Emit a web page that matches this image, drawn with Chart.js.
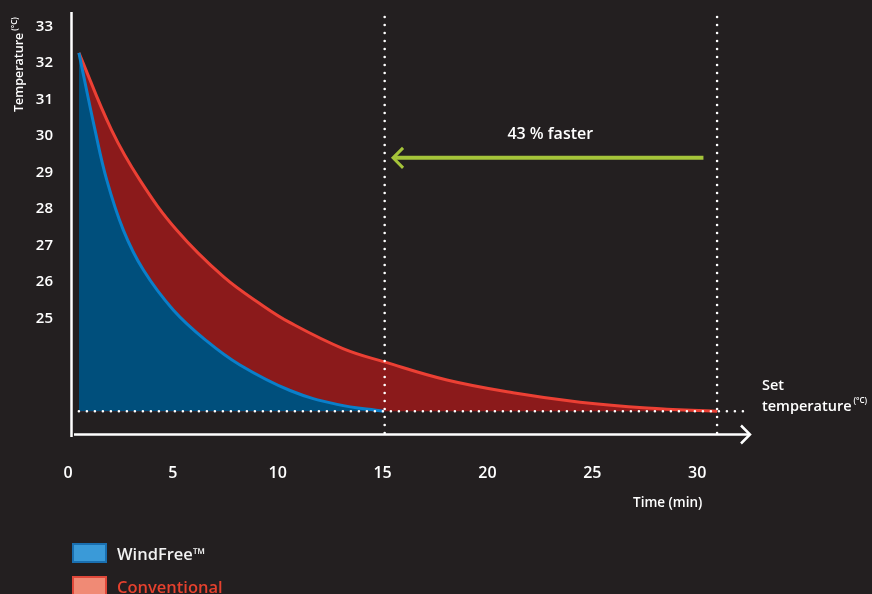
<!DOCTYPE html>
<html>
<head>
<meta charset="utf-8">
<script src="https://cdn.jsdelivr.net/npm/chart.js@4.4.1/dist/chart.umd.min.js"></script>
<style>
  body { margin: 0; background: #231f20; }
  #wrap { position: relative; width: 872px; height: 594px; overflow: hidden; }
  #legend { position: absolute; left: 72px; top: 543px; font-family: 'Open Sans', 'Noto Sans', sans-serif; font-weight: 600; font-size: 16.5px; }
  .item { display: flex; align-items: center; height: 20px; margin-bottom: 13px; }
  .box { width: 31px; height: 16px; border: 2px solid; margin-right: 10px; }
</style>
</head>
<body>
<div id="wrap">
  <canvas id="coolChart" width="872" height="594"></canvas>
  <div id="legend"></div>
</div>
<script>
var seriesNames = ['WindFree™', 'Conventional'];
var windFreeTime = [0.52, 1.29, 1.85, 2.64, 3.59, 5.02, 6.61, 8.2, 10.59, 12.83, 15.05];
var windFreeTemp = [32.28, 30.16, 28.79, 27.42, 26.33, 25.23, 24.38, 23.72, 23.02, 22.64, 22.45];
var conventionalTime = [0.52, 2.08, 3.43, 5.18, 7.41, 9.31, 10.59, 13.11, 15.12, 18.07, 21.22, 24.42, 27.61, 30.95];
var conventionalTemp = [32.28, 30.16, 28.79, 27.42, 26.14, 25.34, 24.88, 24.17, 23.8, 23.31, 22.96, 22.7, 22.54, 22.45];
var xTicks = [0, 5, 10, 15, 20, 25, 30];
var yTicks = [25, 26, 27, 28, 29, 30, 31, 32, 33];
var setTemp = 22.45;
var doneTimes = [15.1, 30.95];
var fasterText = '43 % faster';

var font = "'Open Sans', 'Noto Sans', sans-serif";
var lineColors = ['#0a7fca', '#ec4034'];
var fillColors = ['#004f7c', '#8b1a1b'];
var boxColors = ['#3a9ad8', '#f08a75'];
var boxBorders = ['#1a6fb0', '#e0483a'];
var textColors = ['#f2f2f2', '#e5412e'];

function pts(xs, ys) {
  return xs.map(function (v, i) { return { x: v, y: ys[i] }; });
}

var overlay = {
  id: 'overlay',
  afterDatasetsDraw: function (chart) {
    var ctx = chart.ctx, x = chart.scales.x, y = chart.scales.y, a = chart.chartArea;
    ctx.save();

    // dotted guides
    ctx.strokeStyle = '#ffffff';
    ctx.lineWidth = 2.6;
    ctx.lineCap = 'round';
    ctx.setLineDash([0, 8]);
    doneTimes.forEach(function (t) {
      var px = x.getPixelForValue(t);
      ctx.beginPath();
      ctx.moveTo(px, a.top + 5);
      ctx.lineTo(px, a.bottom + 6);
      ctx.stroke();
    });
    var sy = y.getPixelForValue(setTemp);
    ctx.beginPath();
    ctx.moveTo(x.getPixelForValue(windFreeTime[0]), sy);
    ctx.lineTo(a.right - 4, sy);
    ctx.stroke();
    ctx.setLineDash([]);

    // axes
    ctx.lineCap = 'butt';
    ctx.lineWidth = 2.5;
    var ax = x.getPixelForValue(0) + 3.5;
    var ay = a.bottom - 0.5;
    ctx.beginPath();
    ctx.moveTo(ax, a.top);
    ctx.lineTo(ax, a.bottom + 2);
    ctx.moveTo(ax + 2.5, ay);
    ctx.lineTo(a.right, ay);
    ctx.stroke();
    ctx.beginPath();
    ctx.moveTo(a.right - 9, ay - 9);
    ctx.lineTo(a.right, ay);
    ctx.lineTo(a.right - 9, ay + 9);
    ctx.stroke();

    // "faster" arrow
    var gy = y.getPixelForValue(29.4);
    var gx1 = x.getPixelForValue(30.3), gx0 = x.getPixelForValue(15.5);
    ctx.strokeStyle = '#a5c43a';
    ctx.lineWidth = 4;
    ctx.beginPath();
    ctx.moveTo(gx1, gy);
    ctx.lineTo(gx0 + 2, gy);
    ctx.stroke();
    ctx.lineWidth = 3;
    ctx.beginPath();
    ctx.moveTo(gx0 + 10, gy - 10);
    ctx.lineTo(gx0, gy);
    ctx.lineTo(gx0 + 10, gy + 10);
    ctx.stroke();

    ctx.fillStyle = '#ffffff';
    ctx.font = '600 16px ' + font;
    ctx.textAlign = 'center';
    ctx.textBaseline = 'alphabetic';
    ctx.fillText(fasterText, (gx0 + gx1) / 2 + 2, gy - 19);

    // axis titles
    ctx.textAlign = 'left';
    ctx.font = '600 13.5px ' + font;
    ctx.fillText('Time (min)', 633, 507);
    ctx.font = '600 14.5px ' + font;
    ctx.fillText('Set', 762, 390);
    ctx.fillText('temperature', 762, 411);
    var tw = ctx.measureText('temperature').width;
    ctx.font = '600 8px ' + font;
    ctx.fillText('(°C)', 762 + tw + 2, 403);

    ctx.save();
    ctx.translate(23, 112);
    ctx.rotate(-Math.PI / 2);
    ctx.font = '600 12.5px ' + font;
    ctx.fillText('Temperature', 0, 0);
    var tw2 = ctx.measureText('Temperature').width;
    ctx.font = '600 8px ' + font;
    ctx.fillText('(°C)', tw2 + 2, -6);
    ctx.restore();

    ctx.restore();
  }
};

var ctx1 = document.getElementById('coolChart').getContext('2d');
new Chart(ctx1, {
  type: 'line',
  data: {
    datasets: [
      {
        label: seriesNames[0],
        data: pts(windFreeTime, windFreeTemp),
        borderColor: lineColors[0],
        backgroundColor: fillColors[0],
        borderWidth: 3,
        fill: { value: setTemp },
        pointRadius: 0,
        tension: 0.4
      },
      {
        label: seriesNames[1],
        data: pts(conventionalTime, conventionalTemp),
        borderColor: lineColors[1],
        backgroundColor: fillColors[1],
        borderWidth: 3,
        fill: { value: setTemp },
        pointRadius: 0,
        tension: 0.4
      }
    ]
  },
  options: {
    responsive: false,
    animation: false,
    devicePixelRatio: 1,
    layout: { padding: { top: 12, right: 122, left: 0, bottom: 0 } },
    plugins: { legend: { display: false }, tooltip: { enabled: false } },
    scales: {
      x: {
        type: 'linear',
        min: 0,
        max: 32.52,
        grid: { display: false },
        border: { display: false },
        ticks: { color: '#ffffff', font: { family: font, size: 16, weight: '600' }, padding: 21, maxRotation: 0 },
        afterBuildTicks: function (s) { s.ticks = xTicks.map(function (v) { return { value: v }; }); },
        afterFit: function (s) { s.height = 159; s.paddingLeft = 0; s.paddingRight = 0; }
      },
      y: {
        type: 'linear',
        min: 21.8,
        max: 33.4,
        grid: { display: false },
        border: { display: false },
        ticks: { color: '#ffffff', font: { family: font, size: 15, weight: '600' }, padding: 7 },
        afterBuildTicks: function (s) { s.ticks = yTicks.map(function (v) { return { value: v }; }); },
        afterFit: function (s) { s.width = 68; s.paddingTop = 0; s.paddingBottom = 0; }
      }
    }
  },
  plugins: [overlay]
});

var legend = document.getElementById('legend');
seriesNames.forEach(function (name, i) {
  var item = document.createElement('div');
  item.className = 'item';
  var box = document.createElement('span');
  box.className = 'box';
  box.style.background = boxColors[i];
  box.style.borderColor = boxBorders[i];
  var label = document.createElement('span');
  label.textContent = name;
  label.style.color = textColors[i];
  item.appendChild(box);
  item.appendChild(label);
  legend.appendChild(item);
});
</script>
</body>
</html>
